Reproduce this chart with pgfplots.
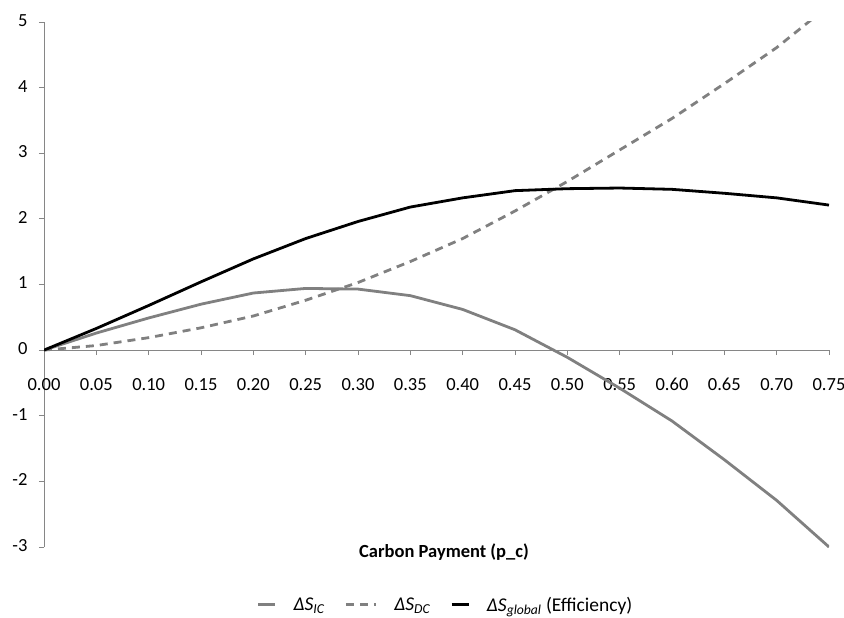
\documentclass[border=0pt]{standalone}
\usepackage{fontspec}
\setmainfont{Carlito}
\usepackage{pgfplots}
\pgfplotsset{compat=1.18}
\usetikzlibrary{calc}

\definecolor{sgray}{RGB}{128,128,128}
\definecolor{axgray}{RGB}{134,134,134}

\pgfplotsset{
  legshort/.style={legend image code/.code={\draw[##1] (0pt,0pt) -- (17pt,0pt);}},
  leglong/.style={legend image code/.code={\draw[##1] (0pt,0pt) -- (30pt,0pt);}},
}

\begin{document}
\begin{tikzpicture}
\begin{axis}[
scale only axis,
width=785pt, height=525pt,
xmin=0, xmax=0.75, ymin=-3, ymax=5,
axis x line=middle, axis y line=left,
axis line style={-, draw=axgray, line width=0.9pt},
hide obscured x ticks=false, hide obscured y ticks=false,
xtick={0,0.05,0.10,0.15,0.20,0.25,0.30,0.35,0.40,0.45,0.50,0.55,0.60,0.65,0.70,0.75},
ytick={-3,-2,-1,0,1,2,3,4,5},
tick align=outside,
major tick length=5pt,
tick style={draw=axgray, line width=0.9pt},
x tick label style={/pgf/number format/fixed, /pgf/number format/fixed zerofill, /pgf/number format/precision=2, anchor=north, yshift=-16pt},
/pgf/number format/assume math mode=true,
tick label style={font=\fontsize{18.5}{22}\selectfont},
typeset ticklabels with strut,
y tick label style={xshift=-8pt},
clip mode=individual,
legend columns=-1,
legend style={at={(axis description cs:0.5115,-0.110)}, anchor=center, draw=none,
  font=\fontsize{19.5}{23}\selectfont,
  /tikz/every odd column/.append style={column sep=15pt},
  /tikz/every even column/.append style={column sep=18pt}},
]
\addplot [sgray, line width=2.8pt, legshort]
table {%
0.00 0
0.05 0.26
0.10 0.49
0.15 0.70
0.20 0.87
0.25 0.94
0.30 0.93
0.35 0.83
0.40 0.62
0.45 0.31
0.50 -0.11
0.55 -0.58
0.60 -1.08
0.65 -1.67
0.70 -2.29
0.75 -3.00
};
\addlegendentry{\textit{ΔS\textsubscript{IC}}}
\addplot [sgray, line width=2.8pt, dash pattern=on 8pt off 6pt, leglong]
table {%
0.00 0
0.05 0.07
0.10 0.19
0.15 0.34
0.20 0.52
0.25 0.76
0.30 1.03
0.35 1.35
0.40 1.70
0.45 2.12
0.50 2.57
0.55 3.05
0.60 3.53
0.65 4.06
0.70 4.61
0.75 5.25
};
\addlegendentry{\textit{ΔS\textsubscript{DC}}}
\addplot [black, line width=2.8pt, legshort]
table {%
0.00 0
0.05 0.33
0.10 0.68
0.15 1.04
0.20 1.39
0.25 1.70
0.30 1.96
0.35 2.18
0.40 2.32
0.45 2.43
0.50 2.46
0.55 2.47
0.60 2.45
0.65 2.39
0.70 2.32
0.75 2.21
};
\addlegendentry{\textit{ΔS\textsubscript{global}} (Efficiency)}
\node [font=\fontsize{18.5}{22}\selectfont\bfseries] at (axis description cs:0.5096,-0.0095) {Carbon Payment (p\_c)};
\coordinate (ll) at (rel axis cs:0,0);
\coordinate (ur) at (rel axis cs:1,1);
\end{axis}
\pgfresetboundingbox
\path ($(ll)+(-44pt,-70pt)$) rectangle ($(ur)+(15pt,22pt)$);
\end{tikzpicture}
\end{document}
